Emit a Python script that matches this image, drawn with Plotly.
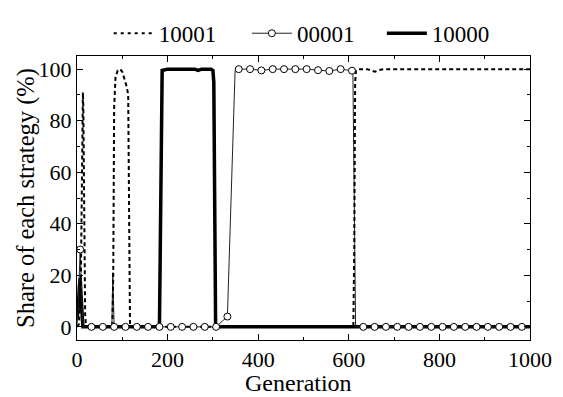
import plotly.graph_objects as go

# ---- data ----
gen_10001 = [0, 4, 8, 10, 12, 13, 14, 16, 18, 20, 78, 80, 82, 85, 90, 95, 100, 105, 110, 113, 115, 117, 120,
             610, 612, 614, 616, 620, 640, 650, 658, 670, 680, 1000]
val_10001 = [0, 1, 10, 45, 80, 91, 85, 40, 5, 0, 0, 20, 85, 97, 99.5, 100, 99, 96, 93, 90, 50, 0, 0,
             0, 30, 95, 99.5, 100, 100, 99.3, 99, 99.8, 100, 100]

gen_00001 = [0, 3, 5, 7, 9, 11, 14, 32, 57, 77, 79, 81, 82, 107, 132, 157, 182, 207, 232, 257, 282, 307,
             332, 349, 357, 382, 407, 432, 457, 482, 507, 532, 557, 582, 607, 609, 615,
             632, 657, 682, 707, 732, 757, 782, 807, 832, 857, 882, 907, 932, 957, 982, 1000]
val_00001 = [1, 8, 20, 30, 20, 8, 0, 0, 0, 0, 21, 0, 0, 0, 0, 0, 0, 0, 0, 0, 0, 0,
             4, 99.5, 100, 100, 99.5, 100, 100, 100, 100, 99.6, 99.3, 100, 99.4, 99, 0,
             0, 0, 0, 0, 0, 0, 0, 0, 0, 0, 0, 0, 0, 0, 0, 0]
marker_gens_00001 = [7, 32, 57, 82, 107, 132, 157, 182, 207, 232, 257, 282, 307, 332, 357, 382, 407, 432,
                     457, 482, 507, 532, 557, 582, 607, 632, 657, 682, 707, 732, 757, 782, 807, 832, 857,
                     882, 907, 932, 957, 982]

gen_10000 = [0, 3, 5, 7, 9, 11, 13, 182, 184, 186, 188, 200, 260, 267, 275, 296, 300, 302, 304, 306, 1000]
val_10000 = [3, 8, 15, 19, 12, 4, 0, 0, 40, 95, 99.5, 100, 100, 99.5, 100, 100, 99.5, 95, 30, 0, 0]

names = ["10001", "00001", "10000"]
x_ticks = [0, 200, 400, 600, 800, 1000]
y_ticks = [0, 20, 40, 60, 80, 100]
x_title = "Generation"
y_title = "Share of each strategy (%)"

FONT = "Liberation Serif"

fig = go.Figure()

# thick 10000
fig.add_trace(go.Scatter(x=gen_10000, y=val_10000, mode="lines", showlegend=False,
                         line=dict(color="black", width=3.5), hoverinfo="skip"))
# thin 00001 line
fig.add_trace(go.Scatter(x=gen_00001, y=val_00001, mode="lines", showlegend=False,
                         line=dict(color="#222", width=1), hoverinfo="skip"))
# dotted 10001
fig.add_trace(go.Scatter(x=gen_10001, y=val_10001, mode="lines", showlegend=False,
                         line=dict(color="black", width=2, dash="4px,3px"), hoverinfo="skip"))
# 00001 markers
lookup = dict(zip(gen_00001, val_00001))
mx = [g for g in marker_gens_00001 if g in lookup]
my = [lookup[g] for g in mx]
fig.add_trace(go.Scatter(x=mx, y=my, mode="markers", showlegend=False,
                         marker=dict(symbol="circle", size=7, color="white",
                                     line=dict(color="black", width=1)), hoverinfo="skip"))

# legend entries (one legend per item so each can be placed like the reference)
fig.add_trace(go.Scatter(x=[None], y=[None], mode="lines", name=names[0], legend="legend",
                         line=dict(color="black", width=2, dash="3px,4px")))
fig.add_trace(go.Scatter(x=[None], y=[None], mode="lines+markers", name=names[1], legend="legend2",
                         line=dict(color="#222", width=1),
                         marker=dict(symbol="circle", size=7, color="white",
                                     line=dict(color="black", width=1))))
fig.add_trace(go.Scatter(x=[None], y=[None], mode="lines", name=names[2], legend="legend3",
                         line=dict(color="black", width=3.5)))

axis_common = dict(
    showline=True, linecolor="black", linewidth=1, mirror="ticks",
    ticks="inside", ticklen=6, tickwidth=1, tickcolor="black",
    showgrid=False, zeroline=False,
    tickfont=dict(family=FONT, size=22, color="black"),
)

fig.update_xaxes(range=[0, 1000], tickvals=x_ticks, ticktext=[str(v) for v in x_ticks],
                 minor=dict(ticks="inside", ticklen=3, dtick=100, tick0=0, tickcolor="black"),
                 **axis_common)
fig.update_yaxes(range=[-5.1, 105.1], tickvals=y_ticks, ticktext=[str(v) for v in y_ticks],
                 minor=dict(ticks="inside", ticklen=3, dtick=10, tick0=0, tickcolor="black"),
                 **axis_common)

leg_common = dict(orientation="h", xanchor="left", y=1.08, yanchor="middle",
                  font=dict(family=FONT, size=23, color="black"), bgcolor="rgba(0,0,0,0)",
                  itemwidth=40)

fig.update_layout(
    width=563, height=397,
    margin=dict(l=77, r=33, t=39, b=57),
    paper_bgcolor="white", plot_bgcolor="white",
    font=dict(family=FONT, size=22, color="black"),
    legend=dict(x=0.07, **leg_common),
    legend2=dict(x=0.375, **leg_common),
    legend3=dict(x=0.673, **leg_common),
    annotations=[
        dict(text=x_title, xref="paper", yref="paper", x=0.488, y=-0.150,
             xanchor="center", yanchor="middle", showarrow=False,
             font=dict(family=FONT, size=24, color="black")),
        dict(text=y_title, xref="paper", yref="paper", x=-0.1126, y=0.5,
             xanchor="center", yanchor="middle", textangle=-90, showarrow=False,
             font=dict(family=FONT, size=24.5, color="black")),
    ],
)

fig.write_html("out.html")
